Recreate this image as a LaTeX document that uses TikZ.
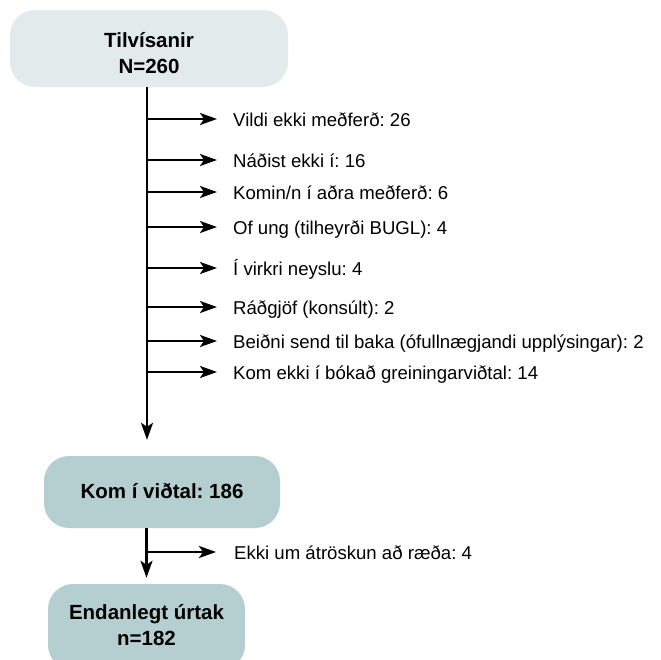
\documentclass[tikz,border=0pt]{standalone}
\usepackage{fontspec}
\setmainfont{Liberation Sans}
\frenchspacing
\usetikzlibrary{arrows.meta}
\definecolor{boxlight}{HTML}{E3EAEB}
\definecolor{boxteal}{HTML}{B5CFD0}
\tikzset{
  x=1pt, y=-1pt,
  flowbox/.style={rounded corners=25pt, draw=none, align=center,
    font=\fontsize{20.5}{26}\selectfont\bfseries, inner sep=0pt, text depth=0pt},
  exclbl/.style={anchor=west, inner sep=0pt, text height=14pt, text depth=0pt,
    font=\fontsize{18.6}{22}\selectfont},
  conn/.style={line width=2.4pt, -{Stealth[length=17pt,width=12pt,inset=4pt]}},
}
\begin{document}
\begin{tikzpicture}
\useasboundingbox (0,0) rectangle (661,659);
\clip (0,0) rectangle (661,659);

\node[flowbox, fill=boxlight, minimum width=278pt, minimum height=77pt, text height=49pt] (top) at (149,48.5) {Tilvísanir\\N=260};
\node[flowbox, fill=boxteal, minimum width=236pt, minimum height=72pt, text height=12pt] (kom) at (162,492) {Kom í viðtal: 186};
\node[flowbox, fill=boxteal, minimum width=197pt, minimum height=86pt, text height=36pt] (end) at (146.5,627) {Endanlegt úrtak\\n=182};

\node[exclbl] (e1) at (233,119) {Vildi ekki meðferð: 26};
\node[exclbl] (e2) at (233,160) {Náðist ekki í: 16};
\node[exclbl] (e3) at (233,192) {Komin/n í aðra meðferð: 6};
\node[exclbl] (e4) at (233,227) {Of ung (tilheyrði BUGL): 4};
\node[exclbl] (e5) at (233,268) {Í virkri neyslu: 4};
\node[exclbl] (e6) at (233,307) {Ráðgjöf (konsúlt): 2};
\node[exclbl] (e7) at (233,341) {Beiðni send til baka (ófullnægjandi upplýsingar): 2};
\node[exclbl] (e8) at (233,372) {Kom ekki í bókað greiningarviðtal: 14};
\node[exclbl] (e9) at (234,552) {Ekki um átröskun að ræða: 4};

\coordinate (mainx) at (147,87);
\draw[conn, shorten >=16pt] (mainx) -- (mainx |- kom.north);
\foreach \i in {1,...,8}{
  \draw[conn, shorten >=16pt] ([xshift=1pt]mainx |- e\i.west) -- (e\i.west);
}
\coordinate (ks) at (end.north |- kom.south);
\draw[conn, shorten >=6pt] (ks) -- (end.north);
\draw[conn, shorten >=18pt] ([xshift=1pt]end.north |- e9.west) -- (e9.west);
\end{tikzpicture}
\end{document}
